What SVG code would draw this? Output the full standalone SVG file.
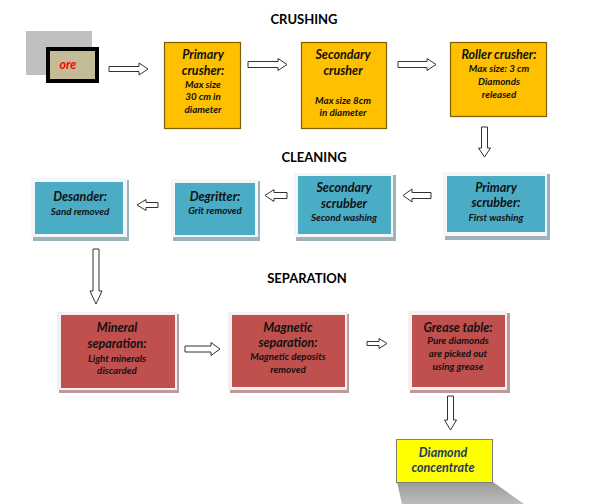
<svg xmlns="http://www.w3.org/2000/svg" width="597" height="504" viewBox="0 0 597 504">
<defs>
<style>
text{font-family:Lato,"Liberation Sans",sans-serif;font-weight:bold;font-style:italic;text-anchor:middle;fill:#111}
.title{font-style:normal;font-size:13px;fill:#000}
.h{font-size:12.5px}
.s{font-size:9.8px}
.crush{fill:#FFC000;stroke:#7F6000;stroke-width:1.2}
.frameT{fill:#F4F6F7}
.shT{fill:#9DB2BA}
.teal{fill:#4BACC6}
.frameR{fill:#F2F0F0}
.shR{fill:#BE9A9A}
.red{fill:#C0504D}
.arr{fill:#fff;stroke:#333;stroke-width:1}
</style>
<linearGradient id="shd" x1="0" y1="0" x2="0" y2="1">
<stop offset="0" stop-color="#9A9A9A"/>
<stop offset="1" stop-color="#BDBDBD"/>
</linearGradient>
</defs>
<rect width="597" height="504" fill="#fff"/>

<text class="title" x="304" y="24">CRUSHING</text>
<text class="title" x="314" y="162">CLEANING</text>
<text class="title" x="307" y="283">SEPARATION</text>

<g id="connectors">
<path class="arr" d="M109,66.5 H139 V63 L148,69 L139,75 V71.5 H109 Z"/>
<path class="arr" d="M248,61.5 H278 V58.5 L287,64.5 L278,70.5 V67.5 H248 Z"/>
<path class="arr" d="M398,61.5 H427 V58.5 L436,64.5 L427,70.5 V67.5 H398 Z"/>
<path class="arr" d="M481.5,127 V148 H478.5 L484.5,157 L490.5,148 H487.5 V127 Z"/>
<path class="arr" d="M431,192.5 H412 V189 L403,195.5 L412,202 V198.5 H431 Z"/>
<path class="arr" d="M287,192.5 H274 V189.5 L265,195.5 L274,201.5 V198.5 H287 Z"/>
<path class="arr" d="M158,202.5 H146 V199.5 L137,205 L146,210.5 V207.5 H158 Z"/>
<path class="arr" d="M93,249 V291 H90 L96,304 L102,291 H99 V249 Z"/>
<path class="arr" d="M185,346 H211 V342.5 L220,349 L211,355.5 V352 H185 Z"/>
<path class="arr" d="M367,341.5 H379 V338.5 L387,343.5 L379,348.5 V345.5 H367 Z"/>
<path class="arr" d="M447.5,396 V420 H444.5 L450.5,430 L456.5,420 H453.5 V396 Z"/>
</g>

<g id="ore">
<rect x="26" y="31" width="66" height="44" fill="#BFBFBF"/>
<rect x="48" y="49" width="49" height="32" fill="#C4BC96" stroke="#000" stroke-width="4"/>
<text x="68" y="69" style="font-size:12.5px;fill:#FF0000">ore</text>
</g>

<g id="primary-crusher">
<rect class="crush" x="164.5" y="42.5" width="76" height="86"/>
<text class="h" x="203" y="59">Primary</text>
<text class="h" x="203" y="75">crusher:</text>
<text class="s" x="203" y="88">Max size</text>
<text class="s" x="203" y="100">30 cm in</text>
<text class="s" x="203" y="113">diameter</text>
</g>

<g id="secondary-crusher">
<rect class="crush" x="301.5" y="42.5" width="85" height="86"/>
<text class="h" x="343" y="59">Secondary</text>
<text class="h" x="343" y="75">crusher</text>
<text class="s" x="343" y="104">Max size 8cm</text>
<text class="s" x="343" y="116">in diameter</text>
</g>

<g id="roller-crusher">
<rect class="crush" x="450.5" y="42.5" width="96" height="74"/>
<text class="h" x="499" y="59">Roller crusher:</text>
<text class="s" x="499" y="72">Max size: 3 cm</text>
<text class="s" x="499" y="85">Diamonds</text>
<text class="s" x="499" y="98">released</text>
</g>

<g id="primary-scrubber">
<rect class="shT" x="445" y="174" width="105" height="66"/>
<rect class="frameT" x="443" y="172" width="104" height="64"/>
<rect class="teal" x="447" y="176" width="98" height="56"/>
<text class="h" x="496" y="192">Primary</text>
<text class="h" x="496" y="207">scrubber:</text>
<text class="s" x="496" y="221">First washing</text>
</g>

<g id="secondary-scrubber">
<rect class="shT" x="296" y="175" width="100" height="66"/>
<rect class="frameT" x="294" y="173" width="99" height="64"/>
<rect class="teal" x="298" y="176" width="93" height="58"/>
<text class="h" x="344" y="192">Secondary</text>
<text class="h" x="344" y="208">scrubber</text>
<text class="s" x="344" y="221">Second washing</text>
</g>

<g id="degritter">
<rect class="shT" x="173" y="181" width="87" height="60"/>
<rect class="frameT" x="171" y="179" width="87" height="58"/>
<rect class="teal" x="175" y="183" width="80" height="52"/>
<text class="h" x="215" y="201">Degritter:</text>
<text class="s" x="215" y="214">Grit removed</text>
</g>

<g id="desander">
<rect class="shT" x="33" y="180" width="96" height="61"/>
<rect class="frameT" x="31" y="178" width="96" height="59"/>
<rect class="teal" x="35" y="182" width="88" height="52"/>
<text class="h" x="80" y="201">Desander:</text>
<text class="s" x="80" y="215">Sand removed</text>
</g>

<g id="mineral-separation">
<rect class="shR" x="59" y="314" width="120" height="79"/>
<rect class="frameR" x="57" y="312" width="120" height="78"/>
<rect class="red" x="61" y="315" width="114" height="73"/>
<text class="h" x="117" y="332">Mineral</text>
<text class="h" x="117" y="348">separation:</text>
<text class="s" x="117" y="362">Light minerals</text>
<text class="s" x="117" y="374">discarded</text>
</g>

<g id="magnetic-separation">
<rect class="shR" x="230" y="314" width="119" height="79"/>
<rect class="frameR" x="228" y="312" width="119" height="78"/>
<rect class="red" x="232" y="315" width="113" height="72"/>
<text class="h" x="288" y="332">Magnetic</text>
<text class="h" x="288" y="347">separation:</text>
<text class="s" x="288" y="360">Magnetic deposits</text>
<text class="s" x="288" y="373">removed</text>
</g>

<g id="grease-table">
<rect class="shR" x="410" y="313" width="100" height="80"/>
<rect class="frameR" x="408" y="311" width="99" height="79"/>
<rect class="red" x="412" y="315" width="93" height="72"/>
<text class="h" x="458" y="332">Grease table:</text>
<text class="s" x="458" y="344">Pure diamonds</text>
<text class="s" x="458" y="357">are picked out</text>
<text class="s" x="458" y="370">using grease</text>
</g>

<g id="diamond-concentrate">
<polygon points="397,482 493,482 524,504 402,504" fill="url(#shd)"/>
<rect x="396.5" y="439.5" width="96" height="43" fill="#FFFF00" stroke="#7F7F7F" stroke-width="1"/>
<text class="h" x="443" y="457" style="fill:#1F3864">Diamond</text>
<text class="h" x="443" y="472" style="fill:#1F3864">concentrate</text>
</g>
</svg>
